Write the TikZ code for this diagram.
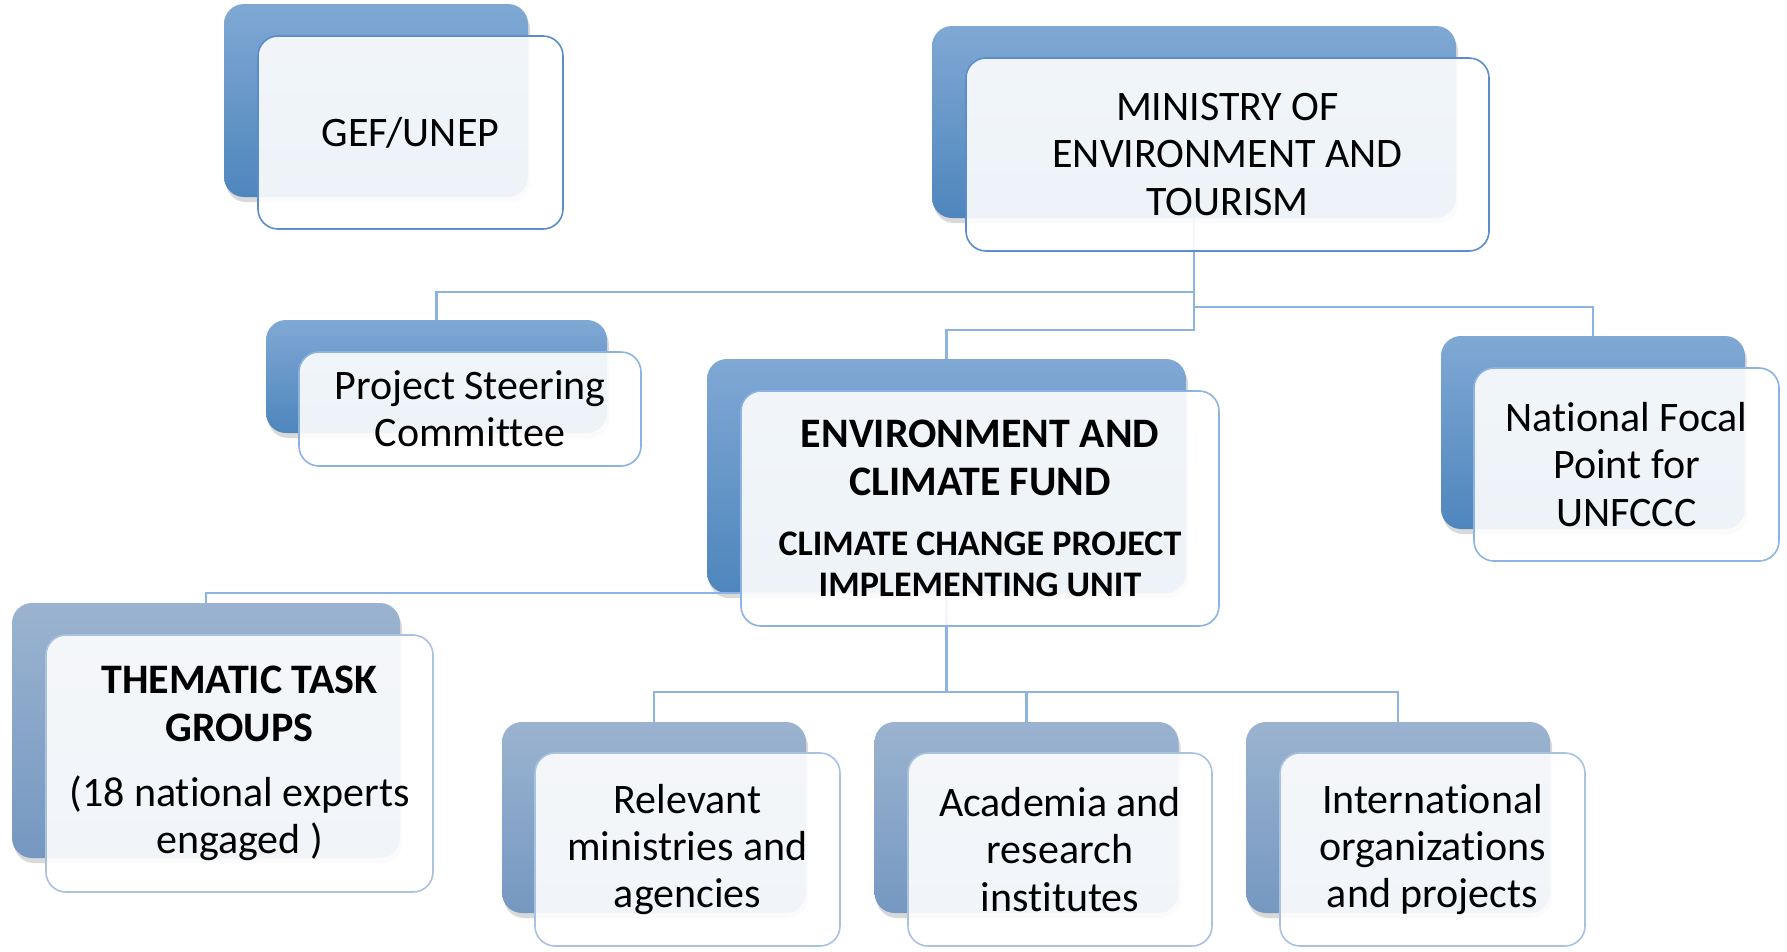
\documentclass[tikz,border=0pt]{standalone}
\usepackage{fontspec}
\setmainfont{Carlito}[Ligatures={NoCommon}]
\usetikzlibrary{shadows}

% palette
\definecolor{backTopA}{HTML}{80A8D4}
\definecolor{backBotA}{HTML}{4E86BD}
\definecolor{backTopC}{HTML}{9BB3D0}
\definecolor{backBotC}{HTML}{7598C1}
\definecolor{edgeA}{HTML}{5B8DCB}
\definecolor{edgeB}{HTML}{8DB3E2}
\definecolor{edgeC}{HTML}{A9C2E2}
\definecolor{linkblue}{HTML}{8DB3E2}

\begin{document}
\begin{tikzpicture}[x=1pt,y=-1pt,
  every node/.style={inner sep=0pt, outer sep=0pt},
  backbase/.style={rectangle, rounded corners=20pt,
    drop shadow={shadow xshift=2pt, shadow yshift=-5pt, opacity=0.15, fill=black}},
  backA/.style={backbase, top color=backTopA, bottom color=backBotA},
  backC/.style={backbase, top color=backTopC, bottom color=backBotC},
  frontbase/.style={rectangle, rounded corners=20pt, fill=white, fill opacity=0.9,
    text opacity=1, line width=1.6pt, align=center,
    font=\fontsize{42}{47.2}\selectfont},
  frontA/.style={frontbase, draw=edgeA},
  frontB/.style={frontbase, draw=edgeB},
  frontC/.style={frontbase, draw=edgeC},
  link/.style={draw=linkblue, line width=2.6pt},
  boxsize/.style 2 args={minimum width=#1, minimum height=#2}
]
\useasboundingbox (0,0) rectangle (1787,951);
\fill[white] (0,0) rectangle (1787,951);

% ---- back plates ----
\node[backA, boxsize={304pt}{193pt}] (gefB) at (376,100.5) {};
\node[backA, boxsize={524pt}{192pt}] (minB) at (1194,122) {};
\node[backA, boxsize={341pt}{113pt}] (pscB) at (436.5,376.5) {};
\node[backA, boxsize={479pt}{234pt}] (envB) at (946.5,476) {};
\node[backA, boxsize={304pt}{193pt}] (nfpB) at (1593,432.5) {};
\node[backC, boxsize={388pt}{255pt}] (thgB) at (206,730.5) {};
\node[backC, boxsize={304pt}{191pt}] (relB) at (654,817.5) {};
\node[backC, boxsize={304pt}{191pt}] (acaB) at (1026.5,817.5) {};
\node[backC, boxsize={304pt}{191pt}] (intB) at (1398,817.5) {};

% ---- connectors ----
\draw[link] (minB.south) -- ++(0,74) -| (pscB.north);
\draw[link] (minB.south) -- ++(0,89) -| (nfpB.north);
\draw[link] (minB.south) -- ++(0,112) -| (envB.north);
\draw[link] (envB.south) -| (thgB.north);
\draw[link] (envB.south) -- ++(0,99) -| (relB.north);
\draw[link] (envB.south) -- ++(0,99) -| (acaB.north);
\draw[link] (envB.south) -- ++(0,99) -| (intB.north);

% ---- front cards with text ----
\node[frontA, boxsize={305pt}{193pt}] (gef) at (410.5,132.5) {GEF/UNEP};
\node[frontA, boxsize={523pt}{193pt}] (min) at (1227.5,154.5)
  {MINISTRY OF\\ENVIRONMENT AND\\TOURISM};
\node[frontB, boxsize={342pt}{114pt}] (psc) at (470,409)
  {Project Steering\\Committee};
\node[frontB, boxsize={478pt}{235pt}] (env) at (980,508.5)
  {\bfseries ENVIRONMENT AND\\\bfseries CLIMATE FUND\\[13pt]
   \fontsize{36}{41}\selectfont\bfseries CLIMATE CHANGE PROJECT\\[-6pt]
   \fontsize{36}{41}\selectfont\bfseries IMPLEMENTING UNIT};
\node[frontB, boxsize={305pt}{193pt}] (nfp) at (1626.5,464.5)
  {National Focal\\Point for\\UNFCCC};
\node[frontC, boxsize={387pt}{257pt}] (thg) at (239.5,763.5)
  {\bfseries THEMATIC TASK\\\bfseries GROUPS\\[18pt]
   (18 national experts\\engaged )};
\node[frontC, boxsize={305pt}{193pt}] (rel) at (687.5,849.5)
  {Relevant\\ministries and\\agencies};
\node[frontC, boxsize={304pt}{193pt}] (aca) at (1060,849.5)
  {Academia and\\research\\institutes};
\node[frontC, boxsize={305pt}{193pt}] (int) at (1432.5,849.5)
  {International\\organizations\\and projects};
\end{tikzpicture}
\end{document}
